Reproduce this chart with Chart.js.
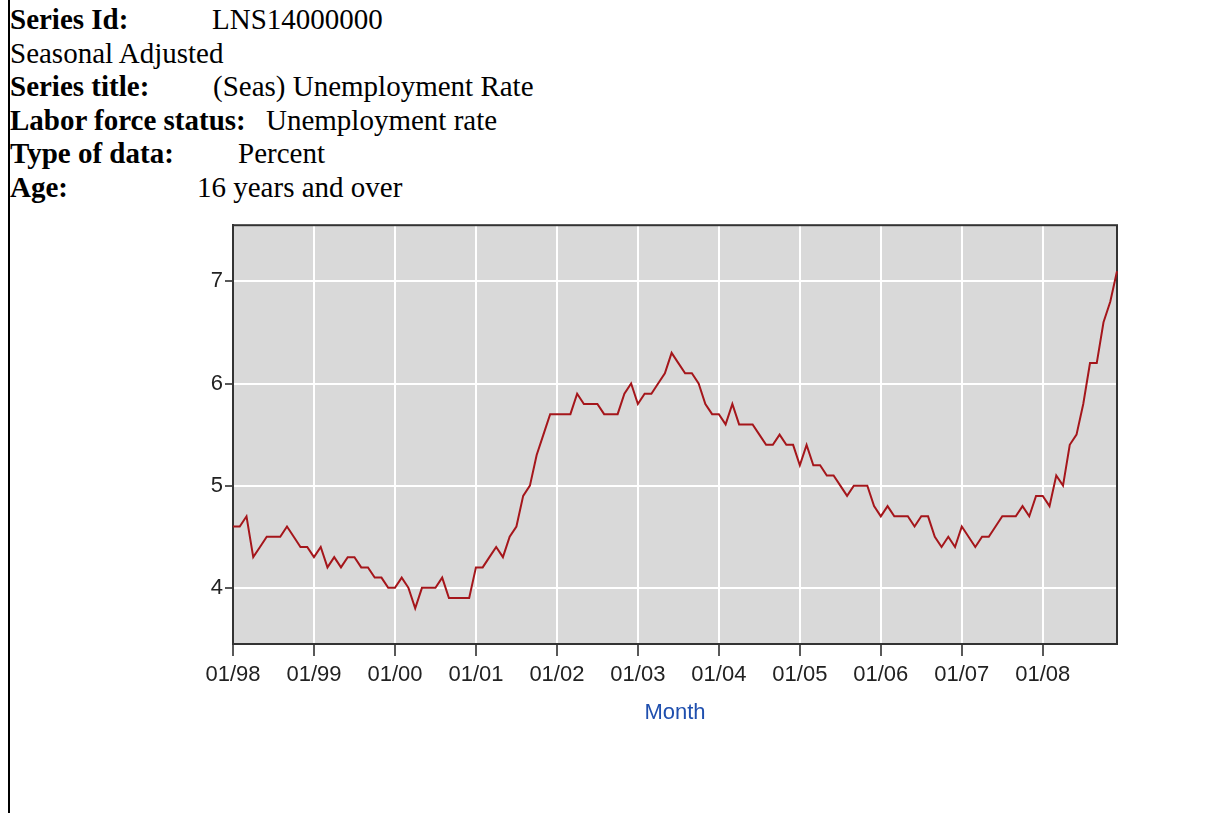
<!DOCTYPE html>
<html>
<head>
<meta charset="utf-8">
<script src="https://cdn.jsdelivr.net/npm/chart.js@4.4.1/dist/chart.umd.min.js"></script>
<style>
  html, body { margin: 0; padding: 0; background: #fff; }
  body { width: 1222px; height: 813px; position: relative; overflow: hidden; }
  #edge { position: absolute; left: 8px; top: 0; width: 2px; height: 813px; background: #000; }
  .row { position: absolute; left: 10px; font-family: "Liberation Serif", "Times New Roman", serif;
         font-size: 29px; line-height: 33.5px; color: #000; white-space: nowrap; }
  .row span { position: absolute; top: 0; }
  #wrap { position: absolute; left: 150px; top: 210px; width: 1000px; height: 525px; }
</style>
</head>
<body>
<div id="edge"></div>
<div class="row" style="top:3px"><b>Series Id:</b><span style="left:202px">LNS14000000</span></div>
<div class="row" style="top:36.5px">Seasonal Adjusted</div>
<div class="row" style="top:70px"><b>Series title:</b><span style="left:203px">(Seas) Unemployment Rate</span></div>
<div class="row" style="top:103.5px"><b>Labor force status:</b><span style="left:256px">Unemployment rate</span></div>
<div class="row" style="top:137px"><b>Type of data:</b><span style="left:228px">Percent</span></div>
<div class="row" style="top:170.5px"><b>Age:</b><span style="left:187px">16 years and over</span></div>
<div id="wrap"><canvas id="chart"></canvas></div>
<script>
// one label per month, Jan 1998 .. Dec 2008
const years = ['98', '99', '00', '01', '02', '03', '04', '05', '06', '07', '08'];
const monthNums = ['01', '02', '03', '04', '05', '06', '07', '08', '09', '10', '11', '12'];
const months = [];
years.forEach(y => monthNums.forEach(m => months.push(m + '/' + y)));

// unemployment rate, percent (one line per year)
const rate = [
  4.6, 4.6, 4.7, 4.3, 4.4, 4.5, 4.5, 4.5, 4.6, 4.5, 4.4, 4.4,
  4.3, 4.4, 4.2, 4.3, 4.2, 4.3, 4.3, 4.2, 4.2, 4.1, 4.1, 4.0,
  4.0, 4.1, 4.0, 3.8, 4.0, 4.0, 4.0, 4.1, 3.9, 3.9, 3.9, 3.9,
  4.2, 4.2, 4.3, 4.4, 4.3, 4.5, 4.6, 4.9, 5.0, 5.3, 5.5, 5.7,
  5.7, 5.7, 5.7, 5.9, 5.8, 5.8, 5.8, 5.7, 5.7, 5.7, 5.9, 6.0,
  5.8, 5.9, 5.9, 6.0, 6.1, 6.3, 6.2, 6.1, 6.1, 6.0, 5.8, 5.7,
  5.7, 5.6, 5.8, 5.6, 5.6, 5.6, 5.5, 5.4, 5.4, 5.5, 5.4, 5.4,
  5.2, 5.4, 5.2, 5.2, 5.1, 5.1, 5.0, 4.9, 5.0, 5.0, 5.0, 4.8,
  4.7, 4.8, 4.7, 4.7, 4.7, 4.6, 4.7, 4.7, 4.5, 4.4, 4.5, 4.4,
  4.6, 4.5, 4.4, 4.5, 4.5, 4.6, 4.7, 4.7, 4.7, 4.8, 4.7, 4.9,
  4.9, 4.8, 5.1, 5.0, 5.4, 5.5, 5.8, 6.2, 6.2, 6.6, 6.8, 7.1
];

const yMin = 3.45;
const yMax = 7.55;

const tickFont = { family: 'Liberation Sans, Arial, sans-serif', size: 22 };

// grey plot background and dark frame
const plotFrame = {
  id: 'plotFrame',
  beforeDraw(chart) {
    const { ctx, chartArea: a } = chart;
    ctx.save();
    ctx.fillStyle = '#d9d9d9';
    ctx.fillRect(a.left, a.top, a.right - a.left, a.bottom - a.top);
    ctx.restore();
  },
  beforeDatasetsDraw(chart) {
    const { ctx, chartArea: a } = chart;
    ctx.save();
    ctx.strokeStyle = '#333';
    ctx.lineWidth = 2;
    ctx.strokeRect(a.left, a.top, a.right - a.left, a.bottom - a.top);
    ctx.restore();
  }
};

new Chart(document.getElementById('chart'), {
  type: 'line',
  data: {
    labels: months,
    datasets: [{
      data: rate,
      borderColor: '#a5161b',
      borderWidth: 2,
      pointRadius: 0,
      tension: 0
    }]
  },
  options: {
    responsive: true,
    maintainAspectRatio: false,
    animation: false,
    devicePixelRatio: 1,
    layout: { padding: { top: 10, right: 33, left: 0, bottom: 0 } },
    plugins: {
      legend: { display: false },
      tooltip: { enabled: false }
    },
    scales: {
      x: {
        type: 'category',
        offset: false,
        afterBuildTicks: scale => {
          scale.ticks = scale.ticks.filter(t => t.value % 12 === 0);
        },
        afterFit: scale => { scale.height = 91; },
        grid: { color: '#ffffff', lineWidth: 2, tickColor: '#222', tickLength: 12, tickWidth: 1.5 },
        border: { color: '#333', width: 2 },
        ticks: { font: tickFont, color: '#222', padding: 6, maxRotation: 0, minRotation: 0, autoSkip: false },
        title: {
          display: true,
          text: 'Month',
          color: '#1f4fae',
          font: tickFont,
          padding: { top: 0, bottom: 9 }
        }
      },
      y: {
        min: yMin,
        max: yMax,
        afterFit: scale => { scale.width = 83; },
        grid: { color: '#ffffff', lineWidth: 2, tickColor: '#222', tickLength: 8, tickWidth: 1.5 },
        border: { color: '#333', width: 2 },
        ticks: { stepSize: 1, includeBounds: false, font: tickFont, color: '#222', padding: 2 }
      }
    }
  },
  plugins: [plotFrame]
});
</script>
</body>
</html>
